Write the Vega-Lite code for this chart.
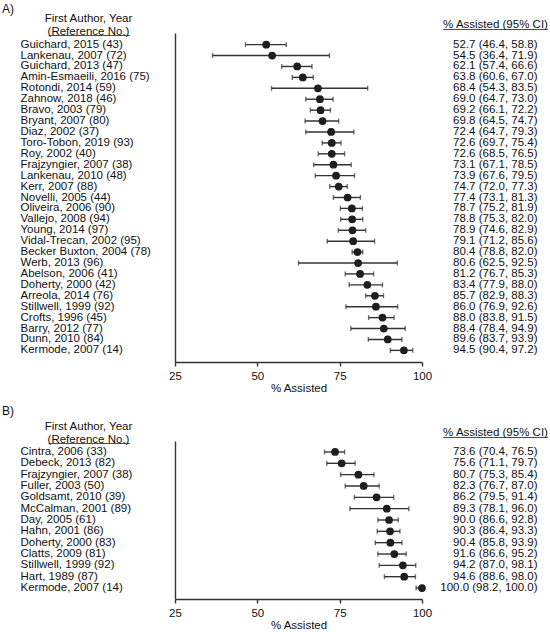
{
  "$schema": "https://vega.github.io/schema/vega-lite/v6.json",
  "padding": {"left": 2, "top": 3, "right": 0, "bottom": 0},
  "background": "white",
  "config": {
    "font": "Liberation Sans",
    "view": {"stroke": null},
    "title": {"fontSize": 12, "fontWeight": "normal", "color": "#111", "anchor": "start", "frame": "bounds", "offset": -4},
    "axis": {"labelFont": "Liberation Sans", "titleFont": "Liberation Sans", "labelColor": "#111", "titleColor": "#111", "grid": false, "domainColor": "#333", "tickColor": "#333"}
  },
  "datasets": {
    "a": [
      {"name": "Guichard, 2015 (43)", "est": 52.7, "lo": 46.4, "hi": 58.8},
      {"name": "Lankenau, 2007 (72)", "est": 54.5, "lo": 36.4, "hi": 71.9},
      {"name": "Guichard, 2013 (47)", "est": 62.1, "lo": 57.4, "hi": 66.6},
      {"name": "Amin-Esmaeili, 2016 (75)", "est": 63.8, "lo": 60.6, "hi": 67.0},
      {"name": "Rotondi, 2014 (59)", "est": 68.4, "lo": 54.3, "hi": 83.5},
      {"name": "Zahnow, 2018 (46)", "est": 69.0, "lo": 64.7, "hi": 73.0},
      {"name": "Bravo, 2003 (79)", "est": 69.2, "lo": 66.1, "hi": 72.2},
      {"name": "Bryant, 2007 (80)", "est": 69.8, "lo": 64.5, "hi": 74.7},
      {"name": "Diaz, 2002 (37)", "est": 72.4, "lo": 64.7, "hi": 79.3},
      {"name": "Toro-Tobon, 2019 (93)", "est": 72.6, "lo": 69.7, "hi": 75.4},
      {"name": "Roy, 2002 (40)", "est": 72.6, "lo": 68.5, "hi": 76.5},
      {"name": "Frajzyngier, 2007 (38)", "est": 73.1, "lo": 67.1, "hi": 78.5},
      {"name": "Lankenau, 2010 (48)", "est": 73.9, "lo": 67.6, "hi": 79.5},
      {"name": "Kerr, 2007 (88)", "est": 74.7, "lo": 72.0, "hi": 77.3},
      {"name": "Novelli, 2005 (44)", "est": 77.4, "lo": 73.1, "hi": 81.3},
      {"name": "Oliveira, 2006 (90)", "est": 78.7, "lo": 75.2, "hi": 81.9},
      {"name": "Vallejo, 2008 (94)", "est": 78.8, "lo": 75.3, "hi": 82.0},
      {"name": "Young, 2014 (97)", "est": 78.9, "lo": 74.6, "hi": 82.9},
      {"name": "Vidal-Trecan, 2002 (95)", "est": 79.1, "lo": 71.2, "hi": 85.6},
      {"name": "Becker Buxton, 2004 (78)", "est": 80.4, "lo": 78.8, "hi": 82.0},
      {"name": "Werb, 2013 (96)", "est": 80.6, "lo": 62.5, "hi": 92.5},
      {"name": "Abelson, 2006 (41)", "est": 81.2, "lo": 76.7, "hi": 85.3},
      {"name": "Doherty, 2000 (42)", "est": 83.4, "lo": 77.9, "hi": 88.0},
      {"name": "Arreola, 2014 (76)", "est": 85.7, "lo": 82.9, "hi": 88.3},
      {"name": "Stillwell, 1999 (92)", "est": 86.0, "lo": 76.9, "hi": 92.6},
      {"name": "Crofts, 1996 (45)", "est": 88.0, "lo": 83.8, "hi": 91.5},
      {"name": "Barry, 2012 (77)", "est": 88.4, "lo": 78.4, "hi": 94.9},
      {"name": "Dunn, 2010 (84)", "est": 89.6, "lo": 83.7, "hi": 93.9},
      {"name": "Kermode, 2007 (14)", "est": 94.5, "lo": 90.4, "hi": 97.2}
    ],
    "b": [
      {"name": "Cintra, 2006 (33)", "est": 73.6, "lo": 70.4, "hi": 76.5},
      {"name": "Debeck, 2013 (82)", "est": 75.6, "lo": 71.1, "hi": 79.7},
      {"name": "Frajzyngier, 2007 (38)", "est": 80.7, "lo": 75.3, "hi": 85.4},
      {"name": "Fuller, 2003 (50)", "est": 82.3, "lo": 76.7, "hi": 87.0},
      {"name": "Goldsamt, 2010 (39)", "est": 86.2, "lo": 79.5, "hi": 91.4},
      {"name": "McCalman, 2001 (89)", "est": 89.3, "lo": 78.1, "hi": 96.0},
      {"name": "Day, 2005 (61)", "est": 90.0, "lo": 86.6, "hi": 92.8},
      {"name": "Hahn, 2001 (86)", "est": 90.3, "lo": 86.4, "hi": 93.3},
      {"name": "Doherty, 2000 (83)", "est": 90.4, "lo": 85.8, "hi": 93.9},
      {"name": "Clatts, 2009 (81)", "est": 91.6, "lo": 86.6, "hi": 95.2},
      {"name": "Stillwell, 1999 (92)", "est": 94.2, "lo": 87.0, "hi": 98.1},
      {"name": "Hart, 1989 (87)", "est": 94.6, "lo": 88.6, "hi": 98.0},
      {"name": "Kermode, 2007 (14)", "est": 100.0, "lo": 98.2, "hi": 100.0}
    ]
  },
  "spacing": 11,
  "vconcat": [
    {
      "data": {"name": "a"},
      "transform": [{"calculate": "datum.name + '|' + format(datum.est, '.1f') + ' (' + format(datum.lo, '.1f') + ', ' + format(datum.hi, '.1f') + ')'", "as": "key"}],
      "width": 247,
      "height": 329,
      "title": {"text": "A)", "dx": -18},
      "encoding": {
        "y": {"field": "key", "type": "nominal", "sort": null, "scale": {"paddingInner": 0, "paddingOuter": 0.565}}
      },
      "layer": [
        {
          "mark": {"type": "rule", "stroke": "#333", "strokeWidth": 1.4},
          "encoding": {
            "x": {"field": "lo", "type": "quantitative", "scale": {"domain": [25, 100], "nice": false, "zero": false},
              "axis": {"values": [25, 50, 75, 100], "title": "% Assisted", "titleFontSize": 11.5, "titleFontWeight": "normal", "titlePadding": 1, "labelFontSize": 11.5, "labelPadding": 4, "tickSize": 4, "tickWidth": 1.4, "domainWidth": 1.4, "labelFlush": false}},
            "x2": {"field": "hi"},
            "y": {"field": "key", "type": "nominal", "sort": null,
              "axis": {"orient": "left", "labelExpr": "split(datum.value, '|')[0]", "labelAlign": "left", "labelPadding": 155, "labelFontSize": 11.5, "ticks": false, "domainWidth": 1.4, "labelLimit": 200,
                "title": ["First Author, Year", "(Reference No.)"], "titleAngle": 0, "titleAlign": "center", "titleBaseline": "alphabetic", "titleX": -87, "titleY": -12, "titleLineHeight": 13, "titleFontSize": 11.5, "titleFontWeight": "normal"}}
          }
        },
        {
          "mark": {"type": "tick", "color": "#333", "thickness": 1.4, "size": 5},
          "encoding": {"x": {"field": "lo", "type": "quantitative"}, "y": {"field": "key", "type": "nominal", "sort": null,
            "axis": {"orient": "left", "labels": false, "ticks": false, "domain": false, "title": "_____________", "titleAngle": 0, "titleAlign": "center", "titleBaseline": "alphabetic", "titleX": -86.2, "titleY": 0, "titleFontSize": 11.2, "titleFontWeight": "normal"}}}
        },
        {
          "mark": {"type": "tick", "color": "#333", "thickness": 1.4, "size": 5},
          "encoding": {"x": {"field": "hi", "type": "quantitative"}, "y": {"field": "key", "type": "nominal", "sort": null,
            "axis": {"orient": "right", "labels": false, "ticks": false, "domain": false, "title": "________________", "titleAngle": 0, "titleAlign": "center", "titleBaseline": "alphabetic", "titleX": 73, "titleY": -5.5, "titleFontSize": 11.76, "titleFontWeight": "normal"}}}
        },
        {
          "mark": {"type": "point", "filled": true, "color": "#1e1e1e", "opacity": 1, "size": 60},
          "encoding": {
            "x": {"field": "est", "type": "quantitative"},
            "y": {"field": "key", "type": "nominal", "sort": null,
              "axis": {"orient": "right", "labelExpr": "split(datum.value, '|')[1]", "labelAlign": "right", "labelPadding": 115, "labelFontSize": 11.5, "ticks": false, "domain": false, "labelLimit": 200,
                "title": "% Assisted (95% CI)", "titleAngle": 0, "titleAlign": "center", "titleBaseline": "alphabetic", "titleX": 73, "titleY": -5.5, "titleFontSize": 11.5, "titleFontWeight": "normal"}}
          }
        }
      ],
      "resolve": {"axis": {"y": "independent"}}
    },
    {
      "data": {"name": "b"},
      "transform": [{"calculate": "datum.name + '|' + format(datum.est, '.1f') + ' (' + format(datum.lo, '.1f') + ', ' + format(datum.hi, '.1f') + ')'", "as": "key"}],
      "width": 247,
      "height": 158,
      "title": {"text": "B)", "dx": -18, "offset": 2},
      "encoding": {
        "y": {"field": "key", "type": "nominal", "sort": null, "scale": {"paddingInner": 0, "paddingOuter": 0.47}}
      },
      "layer": [
        {
          "mark": {"type": "rule", "stroke": "#333", "strokeWidth": 1.4},
          "encoding": {
            "x": {"field": "lo", "type": "quantitative", "scale": {"domain": [25, 100], "nice": false, "zero": false},
              "axis": {"values": [25, 50, 75, 100], "title": "% Assisted", "titleFontSize": 11.5, "titleFontWeight": "normal", "titlePadding": 1, "labelFontSize": 11.5, "labelPadding": 4, "tickSize": 4, "tickWidth": 1.4, "domainWidth": 1.4, "labelFlush": false}},
            "x2": {"field": "hi"},
            "y": {"field": "key", "type": "nominal", "sort": null,
              "axis": {"orient": "left", "labelExpr": "split(datum.value, '|')[0]", "labelAlign": "left", "labelPadding": 155, "labelFontSize": 11.5, "ticks": false, "domainWidth": 1.4, "labelLimit": 200,
                "title": ["First Author, Year", "(Reference No.)"], "titleAngle": 0, "titleAlign": "center", "titleBaseline": "alphabetic", "titleX": -87, "titleY": -12, "titleLineHeight": 13, "titleFontSize": 11.5, "titleFontWeight": "normal"}}
          }
        },
        {
          "mark": {"type": "tick", "color": "#333", "thickness": 1.4, "size": 5},
          "encoding": {"x": {"field": "lo", "type": "quantitative"}, "y": {"field": "key", "type": "nominal", "sort": null,
            "axis": {"orient": "left", "labels": false, "ticks": false, "domain": false, "title": "_____________", "titleAngle": 0, "titleAlign": "center", "titleBaseline": "alphabetic", "titleX": -86.2, "titleY": 0, "titleFontSize": 11.2, "titleFontWeight": "normal"}}}
        },
        {
          "mark": {"type": "tick", "color": "#333", "thickness": 1.4, "size": 5},
          "encoding": {"x": {"field": "hi", "type": "quantitative"}, "y": {"field": "key", "type": "nominal", "sort": null,
            "axis": {"orient": "right", "labels": false, "ticks": false, "domain": false, "title": "________________", "titleAngle": 0, "titleAlign": "center", "titleBaseline": "alphabetic", "titleX": 73, "titleY": -5.5, "titleFontSize": 11.76, "titleFontWeight": "normal"}}}
        },
        {
          "mark": {"type": "point", "filled": true, "color": "#1e1e1e", "opacity": 1, "size": 60},
          "encoding": {
            "x": {"field": "est", "type": "quantitative"},
            "y": {"field": "key", "type": "nominal", "sort": null,
              "axis": {"orient": "right", "labelExpr": "split(datum.value, '|')[1]", "labelAlign": "right", "labelPadding": 115, "labelFontSize": 11.5, "ticks": false, "domain": false, "labelLimit": 200,
                "title": "% Assisted (95% CI)", "titleAngle": 0, "titleAlign": "center", "titleBaseline": "alphabetic", "titleX": 73, "titleY": -5.5, "titleFontSize": 11.5, "titleFontWeight": "normal"}}
          }
        }
      ],
      "resolve": {"axis": {"y": "independent"}}
    }
  ]
}
